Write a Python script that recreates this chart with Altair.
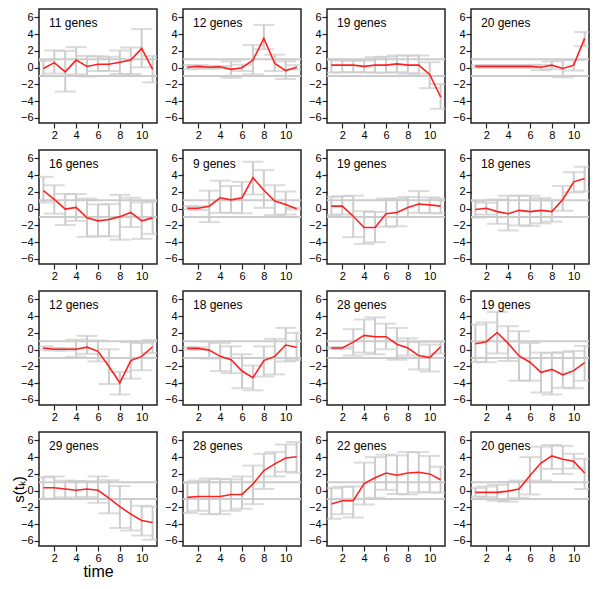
import altair as alt
import pandas as pd

TIME = [1, 2, 3, 4, 5, 6, 7, 8, 9, 10, 11]
GENES = ["11 genes", "12 genes", "19 genes", "20 genes",
         "16 genes", "9 genes", "19 genes", "18 genes",
         "12 genes", "18 genes", "28 genes", "19 genes",
         "29 genes", "28 genes", "22 genes", "20 genes"]

MEANS = [
    [-0.1, 0.6, -0.5, 0.9, 0.15, 0.4, 0.4, 0.65, 0.9, 2.3, -0.2],
    [0.05, 0.15, 0.05, 0.1, -0.2, 0.0, 0.9, 3.5, 0.5, -0.35, 0.05],
    [0.3, 0.3, 0.3, 0.15, 0.3, 0.3, 0.45, 0.3, 0.3, -0.8, -3.5],
    [0.15, 0.15, 0.15, 0.15, 0.15, 0.15, 0.05, 0.3, -0.1, 0.3, 3.5],
    [2.15, 1.1, -0.05, 0.15, -1.1, -1.45, -1.3, -0.95, -0.45, -1.45, -1.1],
    [0.05, 0.05, 0.3, 1.3, 1.05, 1.3, 3.7, 2.2, 0.9, 0.5, 0.0],
    [0.3, 0.3, -0.9, -2.25, -2.25, -0.6, -0.45, 0.15, 0.55, 0.45, 0.3],
    [-0.1, 0.05, -0.35, -0.6, -0.2, -0.35, -0.2, -0.35, 1.1, 3.2, 3.6],
    [0.2, 0.05, 0.05, 0.05, 0.3, -0.2, -2.0, -3.95, -1.3, -0.8, 0.35],
    [0.15, 0.15, -0.05, -0.8, -1.2, -2.55, -3.35, -1.3, -0.8, 0.55, 0.3],
    [0.2, 0.2, 0.9, 1.7, 1.55, 1.55, 0.65, 0.2, -0.7, -0.95, 0.35],
    [0.7, 0.95, 2.05, 0.75, -0.75, -1.5, -2.7, -2.35, -3.0, -2.5, -1.55],
    [0.35, 0.35, 0.2, 0.05, 0.2, 0.05, -0.9, -1.9, -2.8, -3.55, -3.8],
    [-0.8, -0.7, -0.7, -0.7, -0.45, -0.45, 0.8, 2.4, 3.2, 3.9, 4.05],
    [-1.6, -1.2, -1.2, 0.85, 1.55, 2.1, 1.85, 2.1, 2.2, 2.0, 1.3],
    [-0.2, -0.2, -0.2, -0.05, 0.2, 1.8, 3.3, 4.15, 3.75, 3.5, 2.1],
]

LOWER = [
    [-1.0, -0.7, -2.85, -0.8, -1.05, -0.4, -0.4, -0.75, -0.75, 0.05, -1.75],
    [-0.2, -0.1, -0.1, -0.1, -1.2, -0.4, -0.8, 2.2, -0.4, -1.35, -0.2],
    [-0.6, -0.55, -0.55, -0.55, -0.6, -0.6, -0.55, -0.7, -0.7, -2.45, -4.9],
    [0.0, 0.0, 0.0, 0.0, 0.0, 0.0, -0.3, -0.2, -1.15, -0.35, 2.55],
    [0.75, -0.6, -1.95, -1.45, -3.35, -3.3, -3.3, -3.7, -2.2, -3.6, -3.0],
    [-0.1, -0.15, -1.6, -0.5, -0.5, -0.55, 1.7, 0.1, -0.75, -0.7, -0.1],
    [-0.75, -0.7, -3.4, -4.2, -4.0, -2.15, -2.1, -1.0, -0.5, -0.55, -0.55],
    [-1.05, -0.7, -1.8, -2.6, -2.0, -2.05, -1.75, -1.55, -0.25, 1.95, 2.05],
    [0.0, -0.1, -0.1, -0.85, -0.5, -1.4, -4.1, -5.35, -3.45, -2.45, -0.4],
    [0.0, 0.0, -1.05, -2.55, -2.8, -4.6, -4.85, -3.2, -2.95, -1.4, -1.25],
    [0.1, 0.1, -0.7, -0.35, -0.55, 0.05, -1.2, -0.7, -2.35, -2.6, -0.45],
    [-1.45, -1.5, -0.45, -1.35, -3.7, -3.7, -5.1, -5.35, -4.55, -4.6, -3.7],
    [-1.0, -0.95, -0.8, -0.95, -0.75, -1.45, -2.7, -4.45, -4.75, -5.35, -5.85],
    [-2.65, -2.4, -2.8, -2.8, -2.4, -2.15, -1.6, 0.2, 1.7, 2.25, 2.15],
    [-3.35, -2.8, -3.2, -1.65, -0.85, 0.1, -0.4, -0.45, -0.2, -0.2, -0.25],
    [-0.7, -0.75, -1.2, -1.3, -0.85, -0.45, 1.2, 2.6, 2.0, 2.65, 0.2],
]

UPPER = [
    [0.8, 2.05, 2.0, 2.45, 1.4, 1.35, 1.3, 2.05, 2.4, 4.6, 1.4],
    [0.3, 0.3, 0.2, 0.2, 0.75, 0.35, 2.7, 5.1, 1.55, 0.75, 0.3],
    [0.95, 0.85, 0.85, 0.85, 1.25, 1.3, 1.45, 1.45, 1.45, 0.65, -1.95],
    [0.3, 0.3, 0.3, 0.3, 0.3, 0.3, 0.35, 0.75, 0.95, 0.9, 4.25],
    [3.8, 2.8, 1.75, 1.75, 1.2, 0.5, 0.55, 1.65, 1.3, 0.75, 0.85],
    [0.3, 0.3, 2.15, 3.35, 2.7, 3.2, 5.6, 4.6, 2.8, 2.05, 0.1],
    [1.4, 1.5, 1.55, -0.3, -0.4, 1.2, 1.2, 1.4, 2.1, 1.35, 1.2],
    [0.9, 0.7, 1.1, 1.55, 1.55, 1.55, 1.25, 1.0, 2.7, 4.35, 5.0],
    [0.4, 0.2, 0.2, 1.2, 1.65, 1.1, 0.05, -2.65, 0.9, 0.8, 1.15],
    [0.3, 0.3, 0.95, 0.8, 0.4, -0.55, -1.9, 0.4, 1.3, 2.6, 2.0],
    [0.3, 0.3, 2.45, 3.6, 3.85, 3.1, 2.6, 1.35, 0.9, 0.6, 0.95],
    [3.0, 3.25, 4.5, 2.8, 2.2, 0.8, -0.35, -0.4, -0.3, -0.15, 0.45],
    [1.6, 1.7, 1.2, 1.15, 1.15, 1.7, 1.25, 0.55, -1.0, -1.8, -1.9],
    [0.95, 1.2, 1.45, 1.4, 1.35, 1.7, 3.0, 4.4, 4.6, 5.5, 5.8],
    [0.3, 0.45, 0.5, 3.35, 4.0, 4.3, 4.2, 4.6, 4.6, 4.15, 2.85],
    [0.3, 0.5, 0.7, 1.05, 1.2, 4.0, 5.25, 5.45, 5.35, 4.4, 3.8],
]

REF_LEVELS = [1, -1]
X_TICKS = [2, 4, 6, 8, 10]
Y_TICKS = [-6, -4, -2, 0, 2, 4, 6]

GRAY = "#cccccc"
RED = "#ff2020"
FONT = "Liberation Sans"
PW, PH = 118, 114

xscale = alt.Scale(domain=[0.6, 11.4], nice=False, zero=False)
yscale = alt.Scale(domain=[-6.6, 7.0], nice=False, zero=False)


def panel(i):
    df = pd.DataFrame({"time": TIME, "mean": MEANS[i], "lo": LOWER[i], "hi": UPPER[i]})
    show_titles = (i == 12)
    if show_titles:
        xaxis = alt.Axis(values=X_TICKS, title="time", titleFontSize=16,
                         titleFontWeight="normal", titlePadding=0)
        yaxis = alt.Axis(values=Y_TICKS, title="s(tₖ)", titleFontSize=15,
                         titleFontWeight="normal", titleX=-13, titleY=PH / 2)
    else:
        xaxis = alt.Axis(values=X_TICKS, title=None)
        yaxis = alt.Axis(values=Y_TICKS, title=None)
    X = alt.X("time:Q", scale=xscale, axis=xaxis)
    base = alt.Chart(df)
    refs = alt.Chart(pd.DataFrame({"r": REF_LEVELS})).mark_rule(
        color=GRAY, strokeWidth=2, clip=True
    ).encode(y=alt.Y("r:Q", scale=yscale, axis=yaxis))
    bars = base.mark_rule(color=GRAY, strokeWidth=2, clip=True).encode(
        x=X, y=alt.Y("lo:Q", scale=yscale, axis=yaxis), y2="hi:Q")
    cap_lo = base.mark_tick(orient="horizontal", size=21, thickness=2, color=GRAY,
                            clip=True).encode(x=X, y=alt.Y("lo:Q", scale=yscale, axis=yaxis))
    cap_hi = base.mark_tick(orient="horizontal", size=21, thickness=2, color=GRAY,
                            clip=True).encode(x=X, y=alt.Y("hi:Q", scale=yscale, axis=yaxis))
    line = base.mark_line(color=RED, strokeWidth=1.6, clip=True).encode(
        x=X, y=alt.Y("mean:Q", scale=yscale, axis=yaxis))
    label = alt.Chart(pd.DataFrame({"t": [GENES[i]]})).mark_text(
        align="left", baseline="middle", fontSize=12, font=FONT, color="black"
    ).encode(x=alt.value(10), y=alt.value(14), text="t:N")
    return alt.layer(refs, bars, cap_lo, cap_hi, line, label).properties(width=PW, height=PH)


chart = alt.concat(
    *[panel(i) for i in range(16)], columns=4,
    spacing={"row": 27, "column": 26}, bounds="flush"
).properties(
    padding={"left": 2, "top": 0, "right": 0, "bottom": 0}
).configure_view(
    stroke="#222222", strokeWidth=1.5
).configure_axis(
    grid=False, domain=False, tickColor="#222222", tickSize=5, tickWidth=1.2,
    labelFont=FONT, labelFontSize=11, labelColor="black", labelPadding=1,
    titleFont=FONT, titleColor="black"
)

chart.save("out.html", embed_options={"renderer": "svg", "actions": False})
